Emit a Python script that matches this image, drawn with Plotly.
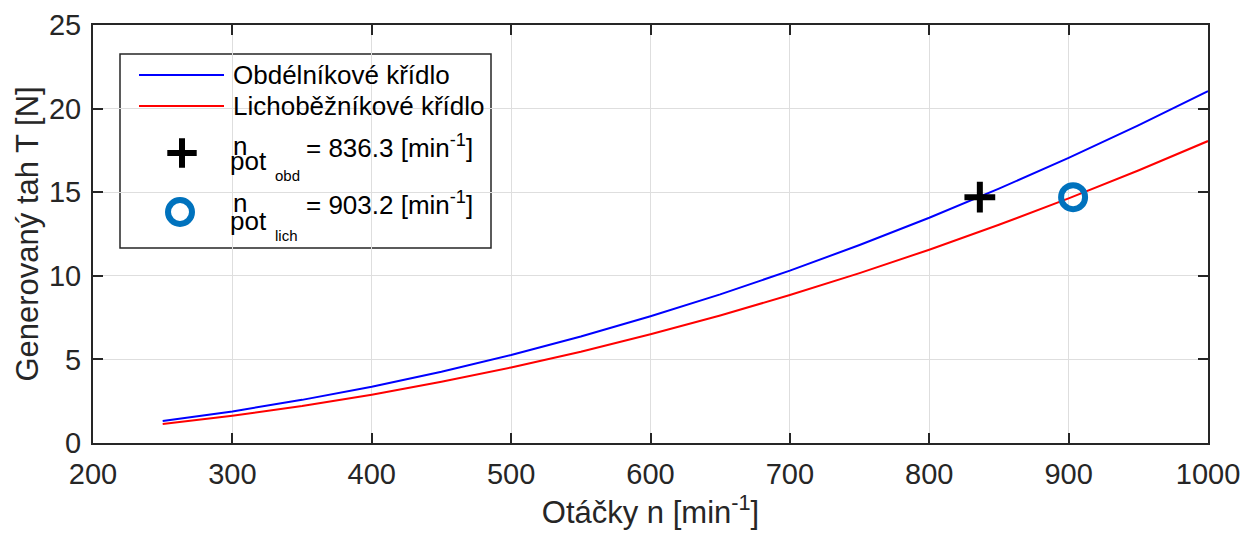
import plotly.graph_objects as go

# ---- data ----
n_rpm = [250, 300, 350, 400, 450, 500, 550, 600, 650, 700, 750, 800, 850, 900, 950, 1000]
T_obd = [1.32, 1.89, 2.58, 3.37, 4.26, 5.26, 6.37, 7.58, 8.89, 10.31, 11.84, 13.47, 15.21, 17.05, 19.00, 21.05]
T_lich = [1.13, 1.63, 2.21, 2.89, 3.66, 4.52, 5.46, 6.50, 7.63, 8.85, 10.16, 11.56, 13.05, 14.63, 16.30, 18.06]
n_pot_obd = [836.3]
T_pot_obd = [14.7]
n_pot_lich = [903.2]
T_pot_lich = [14.7]
x_ticks = [200, 300, 400, 500, 600, 700, 800, 900, 1000]
y_ticks = [0, 5, 10, 15, 20, 25]
lbl_obd = "Obdélníkové křídlo"
lbl_lich = "Lichoběžníkové křídlo"
val_obd = "836.3"
val_lich = "903.2"

# ---- layout geometry ----
W, H = 1243, 538
L, R, T, B = 93, 1208, 25, 443
FONT = "Liberation Sans, Arial, sans-serif"
TXT = "#262626"
BLUE_MARK = "#0072BD"


def fx(px):
    return (px - L) / (R - L)


def fy(py):
    return (B - py) / (B - T)


fig = go.Figure()
fig.add_trace(go.Scatter(x=n_rpm, y=T_obd, mode="lines", line=dict(color="#0000ff", width=2),
                         showlegend=False, hoverinfo="skip"))
fig.add_trace(go.Scatter(x=n_rpm, y=T_lich, mode="lines", line=dict(color="#ff0000", width=2),
                         showlegend=False, hoverinfo="skip"))
fig.add_trace(go.Scatter(x=n_pot_obd, y=T_pot_obd, mode="markers",
                         marker=dict(symbol="cross-thin", size=22, color="black",
                                     line=dict(color="black", width=6)),
                         showlegend=False, hoverinfo="skip"))
fig.add_trace(go.Scatter(x=n_pot_lich, y=T_pot_lich, mode="markers",
                         marker=dict(symbol="circle-open", size=24, color=BLUE_MARK,
                                     line=dict(color=BLUE_MARK, width=6)),
                         showlegend=False, hoverinfo="skip"))

# legend glyph markers on an overlay axis (0..1 = plot area)
fig.add_trace(go.Scatter(x=[fx(182)], y=[fy(153)], xaxis="x2", yaxis="y2", mode="markers",
                         marker=dict(symbol="cross-thin", size=21, color="black",
                                     line=dict(color="black", width=6)),
                         showlegend=False, hoverinfo="skip", cliponaxis=False))
fig.add_trace(go.Scatter(x=[fx(180)], y=[fy(212)], xaxis="x2", yaxis="y2", mode="markers",
                         marker=dict(symbol="circle-open", size=24, color=BLUE_MARK,
                                     line=dict(color=BLUE_MARK, width=6)),
                         showlegend=False, hoverinfo="skip", cliponaxis=False))

shapes = [
    # legend box (between grid and traces)
    dict(type="rect", xref="paper", yref="paper", x0=fx(120), x1=fx(491), y0=fy(248), y1=fy(54),
         line=dict(color=TXT, width=1.5), fillcolor="white", layer="between"),
    dict(type="line", xref="paper", yref="paper", x0=fx(139), x1=fx(224), y0=fy(75), y1=fy(75),
         line=dict(color="#0000ff", width=2), layer="above"),
    dict(type="line", xref="paper", yref="paper", x0=fx(139), x1=fx(224), y0=fy(106), y1=fy(106),
         line=dict(color="#ff0000", width=2), layer="above"),
]


def ann(text, px, py, size):
    return dict(text=text, x=fx(px), y=fy(py), xref="paper", yref="paper",
                xanchor="left", yanchor="middle", showarrow=False,
                font=dict(family=FONT, size=size, color="black"), borderpad=0)


annotations = [
    ann(lbl_obd, 232, 75, 26),
    ann(lbl_lich, 232, 106, 26),
    ann("n", 232, 146, 26),
    ann("pot", 229, 161, 26),
    ann("obd", 274, 175, 15),
    ann("= " + val_obd + " [min<sup>-1</sup>]", 305, 146, 26),
    ann("n", 232, 203, 26),
    ann("pot", 229, 221, 26),
    ann("lich", 274, 235, 15),
    ann("= " + val_lich + " [min<sup>-1</sup>]", 305, 204, 26),
]

axis_common = dict(
    showline=True, linecolor=TXT, linewidth=2, mirror="ticks",
    ticks="inside", ticklen=10, tickwidth=1.5, tickcolor=TXT,
    showgrid=True, gridcolor="#dedede", gridwidth=1,
    zeroline=False, tickfont=dict(family=FONT, size=29, color=TXT),
    automargin=False,
)

fig.update_layout(
    width=W, height=H,
    margin=dict(l=L, r=W - R, t=T, b=H - B, pad=0),
    paper_bgcolor="white", plot_bgcolor="white",
    showlegend=False,
    xaxis=dict(range=[200, 1000], tickvals=x_ticks, ticktext=[str(v) for v in x_ticks],
               title=dict(text="Otáčky n [min<sup>-1</sup>]", font=dict(family=FONT, size=31, color=TXT),
                          standoff=7),
               ticklabelstandoff=4, **axis_common),
    yaxis=dict(range=[0, 25], tickvals=y_ticks, ticktext=[str(v) for v in y_ticks],
               title=dict(text="Generovaný tah T [N]", font=dict(family=FONT, size=31, color=TXT),
                          standoff=1),
               ticklabelstandoff=4, **axis_common),
    xaxis2=dict(range=[0, 1], overlaying="x", visible=False, fixedrange=True),
    yaxis2=dict(range=[0, 1], overlaying="y", visible=False, fixedrange=True),
    shapes=shapes,
    annotations=annotations,
)

fig.write_html("out.html", config={"displayModeBar": False},
               post_script="document.body.style.margin='0';document.body.style.padding='0';")
